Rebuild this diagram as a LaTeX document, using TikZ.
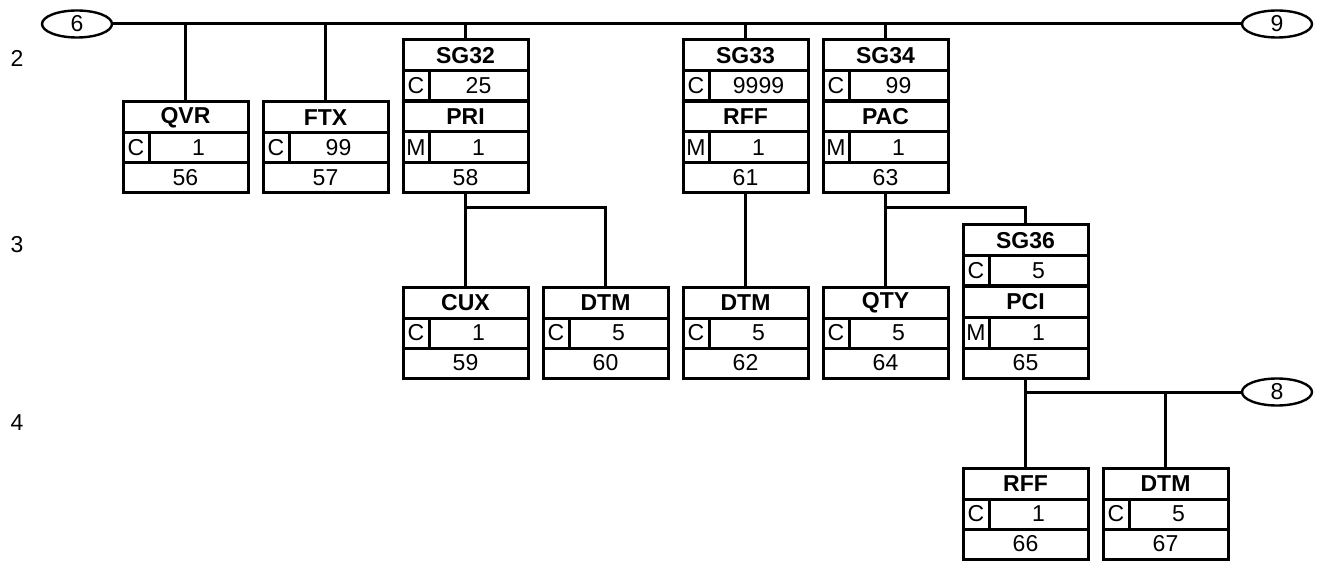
\documentclass[tikz,border=0pt]{standalone}
\usepackage{fontspec}
\setmainfont{Liberation Sans}
\usetikzlibrary{shapes.geometric}
\tikzset{
  boxline/.style={line width=3pt},
  thickline/.style={line width=4.5pt},
  conn/.style={line width=3pt},
  frame/.style={draw, boxline, rectangle, anchor=north west, minimum width=125pt, inner sep=0pt, outer sep=0pt},
  tag/.style={draw, ellipse, line width=2.4pt, minimum width=70pt, minimum height=27pt, inner sep=0pt, font=\fontsize{23}{25}\selectfont},
  txt/.style={inner sep=0pt, font=\fontsize{23}{25}\selectfont},
  btxt/.style={inner sep=0pt, font=\fontsize{23}{25}\selectfont\bfseries},
  lvl/.style={inner sep=0pt, font=\fontsize{23}{25}\selectfont}
}
% segment box: name, x, y, title, status, rep, number
\newcommand\segbox[7]{%
  \node[frame, minimum height=91pt] (#1) at (#2,#3) {};
  \draw[boxline] ([yshift=-31pt]#1.north west) -- ([yshift=-31pt]#1.north east);
  \draw[boxline] ([yshift=-61pt]#1.north west) -- ([yshift=-61pt]#1.north east);
  \draw[boxline] ([xshift=26pt,yshift=-31pt]#1.north west) -- ([xshift=26pt,yshift=-61pt]#1.north west);
  \node[btxt] (#1-t) at ([yshift=-16pt]#1.north) {#4};
  \node[txt] (#1-s) at ([xshift=13pt,yshift=-46pt]#1.north west) {#5};
  \node[txt] (#1-r) at ([xshift=75.5pt,yshift=-46pt]#1.north west) {#6};
  \node[txt] (#1-n) at ([yshift=-76pt]#1.north) {#7};
}
% group box: name, x, y, group, status, rep, segment, status2, rep2 (number in \grpnumber)
\newcommand\grpbox[9]{%
  \node[frame, minimum height=153pt] (#1) at (#2,#3) {};
  \draw[boxline] ([yshift=-31pt]#1.north west) -- ([yshift=-31pt]#1.north east);
  \draw[thickline] ([yshift=-61pt]#1.north west) -- ([yshift=-61pt]#1.north east);
  \draw[boxline] ([yshift=-92pt]#1.north west) -- ([yshift=-92pt]#1.north east);
  \draw[boxline] ([yshift=-123pt]#1.north west) -- ([yshift=-123pt]#1.north east);
  \draw[boxline] ([xshift=26pt,yshift=-31pt]#1.north west) -- ([xshift=26pt,yshift=-61pt]#1.north west);
  \draw[boxline] ([xshift=26pt,yshift=-92pt]#1.north west) -- ([xshift=26pt,yshift=-123pt]#1.north west);
  \node[btxt] (#1-g) at ([yshift=-16pt]#1.north) {#4};
  \node[txt] (#1-s) at ([xshift=13pt,yshift=-46pt]#1.north west) {#5};
  \node[txt] (#1-r) at ([xshift=75.5pt,yshift=-46pt]#1.north west) {#6};
  \node[btxt] (#1-t) at ([yshift=-77pt]#1.north) {#7};
  \node[txt] (#1-s2) at ([xshift=13pt,yshift=-107.5pt]#1.north west) {#8};
  \node[txt] (#1-r2) at ([xshift=75.5pt,yshift=-107.5pt]#1.north west) {#9};
  \grpnum{#1}%
}
\newcommand\grpnum[1]{\node[txt] (#1-n) at ([yshift=-138pt]#1.north) {\grpnumber};}
\begin{document}
\begin{tikzpicture}[x=1pt,y=-1pt]
\useasboundingbox (0,0) rectangle (1319,561);
\fill[white] (0,0) rectangle (1319,561);

% level labels
\node[lvl] (l2) at (17,58) {2};
\node[lvl] (l3) at (17,245) {3};
\node[lvl] (l4) at (17,423) {4};

% tags
\node[tag] (e6) at (77,24) {6};
\node[tag] (e9) at (1277,24) {9};
\node[tag] (e8) at (1277,392) {8};

% level 2
\segbox{qvr}{123}{102}{QVR}{C}{1}{56}
\segbox{ftx}{263}{102}{FTX}{C}{99}{57}
\def\grpnumber{58}\grpbox{sg32}{403}{40}{SG32}{C}{25}{PRI}{M}{1}
\def\grpnumber{61}\grpbox{sg33}{683}{40}{SG33}{C}{9999}{RFF}{M}{1}
\def\grpnumber{63}\grpbox{sg34}{823}{40}{SG34}{C}{99}{PAC}{M}{1}

% level 3
\segbox{cux}{403}{287}{CUX}{C}{1}{59}
\segbox{dtma}{543}{287}{DTM}{C}{5}{60}
\segbox{dtmb}{683}{287}{DTM}{C}{5}{62}
\segbox{qty}{823}{287}{QTY}{C}{5}{64}
\def\grpnumber{65}\grpbox{sg36}{963}{225}{SG36}{C}{5}{PCI}{M}{1}

% level 4
\segbox{rff}{963}{468}{RFF}{C}{1}{66}
\segbox{dtmc}{1103}{468}{DTM}{C}{5}{67}

% connectors
\draw[conn] (e6.east) -- (e9.west);
\draw[conn] (qvr.north) -- (qvr.north |- e6.east);
\draw[conn] (ftx.north) -- (ftx.north |- e6.east);
\draw[conn] (sg32.north) -- (sg32.north |- e6.east);
\draw[conn] (sg33.north) -- (sg33.north |- e6.east);
\draw[conn] (sg34.north) -- (sg34.north |- e6.east);

\draw[conn] (sg32.south) -- (cux.north);
\draw[conn] (sg32.south) -- ++(0,15) -| (dtma.north);
\draw[conn] (sg33.south) -- (dtmb.north);
\draw[conn] (sg34.south) -- (qty.north);
\draw[conn] (sg34.south) -- ++(0,15) -| (sg36.north);

\draw[conn] (sg36.south) -- (rff.north);
\draw[conn] (sg36.south) |- (e8.west);
\draw[conn] (dtmc.north) -- (dtmc.north |- e8.west);
\end{tikzpicture}
\end{document}
